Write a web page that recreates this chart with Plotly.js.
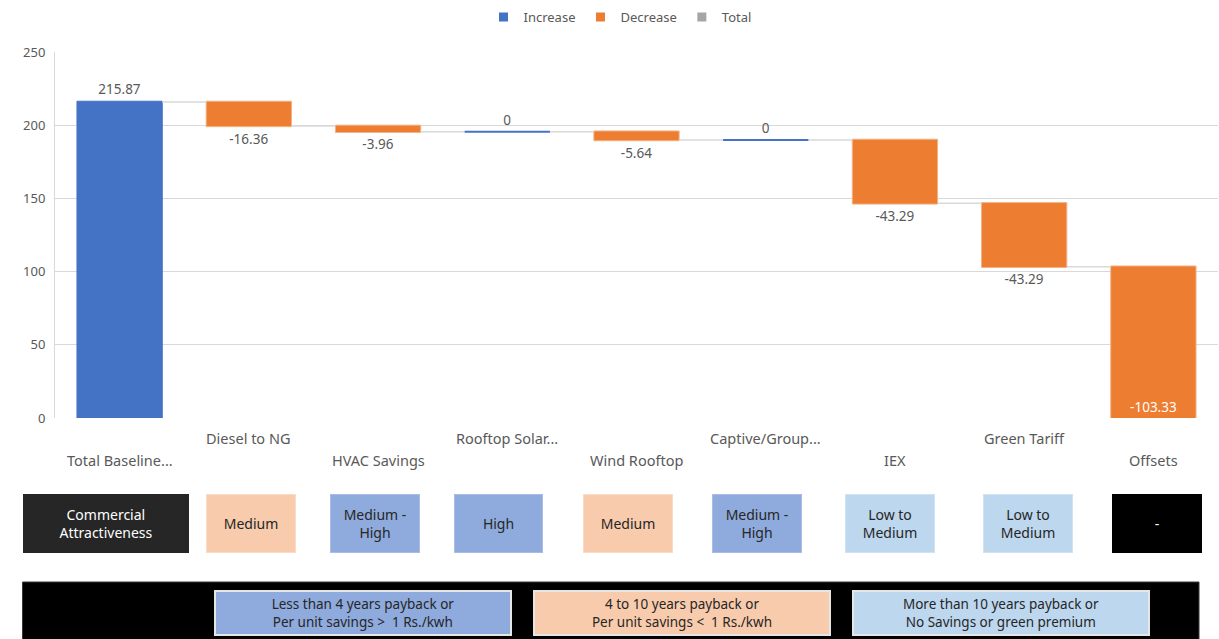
<!DOCTYPE html>
<html>
<head>
<meta charset="utf-8">
<script src="https://cdn.plot.ly/plotly-3.0.1.min.js"></script>
<style>
  html, body { margin: 0; padding: 0; background: #fff; }
  #chart { width: 1219px; height: 639px; }
</style>
</head>
<body>
<div id="chart"></div>
<script>
// Emission reduction pathway (waterfall) with commercial attractiveness ratings
const categories = [
  'Total Baseline...', 'Diesel to NG', 'HVAC Savings', 'Rooftop Solar...',
  'Wind Rooftop', 'Captive/Group...', 'IEX', 'Green Tariff', 'Offsets'
];
const changes = [215.87, -16.36, -3.96, 0, -5.64, 0, -43.29, -43.29, -103.33];
const ratings = [
  'Commercial<br>Attractiveness', 'Medium', 'Medium -<br>High', 'High',
  'Medium', 'Medium -<br>High', 'Low to<br>Medium', 'Low to<br>Medium', '-'
];
const ratingLevels = ['header', 'mid', 'high', 'high', 'mid', 'high', 'low', 'low', 'none'];
const keyTexts = [
  'Less than 4 years payback or<br>Per unit savings >  1 Rs./kwh',
  '4 to 10 years payback or<br>Per unit savings <  1 Rs./kwh',
  'More than 10 years payback or<br>No Savings or green premium'
];
const keyLevels = ['high', 'mid', 'low'];
const legendNames = ['Increase', 'Decrease', 'Total'];
const legendColors = ['#4472C4', '#ED7D31', '#A5A5A5'];

// styling
const FONT = 'Noto Sans, Open Sans, sans-serif';
const TXT = '#595959';
const INC = '#4472C4';
const DEC = '#ED7D31';
const GAP = 0.34;              // gap between bars as a fraction of the slot
const levelStyle = {
  header: { bg: '#262626', border: '#262626', color: '#FFFFFF' },
  none:   { bg: '#000000', border: '#000000', color: '#FFFFFF' },
  high:   { bg: '#8FAADC', border: '#A9BDE4', color: '#262626' },
  mid:    { bg: '#F8CBAD', border: '#FADBC6', color: '#262626' },
  low:    { bg: '#BDD7EE', border: '#D0E3F3', color: '#262626' }
};

// plot-area geometry (px) and helpers to convert page pixels to paper units
const PLOT = { l: 55, t: 52, w: 1163, h: 366 };
const fx = p => (p - PLOT.l) / PLOT.w;
const fy = p => (PLOT.t + PLOT.h - p) / PLOT.h;

const textPos = changes.map((v, i) => i === changes.length - 1 ? 'inside' : 'outside');

const traces = [{
  type: 'waterfall',
  x: categories,
  y: changes,
  measure: changes.map(() => 'relative'),
  text: changes.map(v => String(v)),
  textposition: textPos,
  insidetextanchor: 'end',
  textfont: { family: FONT, size: 13.5, color: TXT },
  outsidetextfont: { family: FONT, size: 13.5, color: TXT },
  insidetextfont: { family: FONT, size: 13.5, color: '#FFFFFF' },
  constraintext: 'none',
  cliponaxis: false,
  increasing: { marker: { color: INC, line: { color: INC, width: 1 } } },
  decreasing: { marker: { color: DEC, line: { color: '#F4B183', width: 1 } } },
  connector: { mode: 'between', line: { color: '#D9D9D9', width: 1.5 } },
  showlegend: false,
  hoverinfo: 'none'
}];

// zero-change steps are shown as a flat stroke at the running level
const zx = [], zy = [];
let running = 0;
changes.forEach((v, i) => {
  running += v;
  if (v === 0) {
    const half = (1 - GAP) / 2;
    zx.push(i - half, i + half, null);
    zy.push(running, running, null);
  }
});
traces.push({
  type: 'scatter', mode: 'lines', x: zx, y: zy, xaxis: 'x2', yaxis: 'y',
  line: { color: INC, width: 2 }, showlegend: false, hoverinfo: 'none'
});

legendNames.forEach((n, i) => {
  traces.push({
    type: 'scatter', mode: 'markers', x: [null], y: [null], name: n,
    marker: { symbol: 'square', size: 9, color: legendColors[i] },
    hoverinfo: 'none'
  });
});

const annotations = [];

// staggered category labels
categories.forEach((c, i) => {
  annotations.push({
    x: c, xref: 'x', y: fy(i % 2 === 0 ? 460 : 438), yref: 'paper',
    xanchor: 'center', yanchor: 'middle', showarrow: false,
    text: c, font: { family: FONT, size: 14.5, color: TXT }
  });
});

// attractiveness rating boxes under each category
const boxShift = [-14, 2, -3, -8.5, -9, -8.5, -4.5, 4, 4];
const boxW = [166, 90, 90, 89, 90, 90, 90, 90, 90];
ratings.forEach((r, i) => {
  const s = levelStyle[ratingLevels[i]];
  annotations.push({
    x: categories[i], xref: 'x', xshift: boxShift[i],
    y: fy(523.5), yref: 'paper', xanchor: 'center', yanchor: 'middle',
    showarrow: false, text: r, align: 'center',
    width: boxW[i] - 2, height: 57, borderpad: 0, borderwidth: 1,
    bgcolor: s.bg, bordercolor: s.border,
    font: { family: FONT, size: 14, color: s.color }
  });
});

// payback key along the bottom
const keyCenters = [363, 682, 1001];
keyTexts.forEach((t, i) => {
  const s = levelStyle[keyLevels[i]];
  annotations.push({
    x: fx(keyCenters[i]), xref: 'paper', y: fy(612.5), yref: 'paper',
    xanchor: 'center', yanchor: 'middle', showarrow: false,
    text: t, align: 'center', width: 294, height: 42, borderpad: 0,
    borderwidth: 2, bgcolor: s.bg, bordercolor: '#E6E6E6',
    font: { family: FONT, size: 13.5, color: '#262626' }
  });
});

const layout = {
  width: 1219, height: 639,
  margin: { l: PLOT.l, r: 1219 - PLOT.l - PLOT.w, t: PLOT.t, b: 639 - PLOT.t - PLOT.h },
  paper_bgcolor: '#FFFFFF', plot_bgcolor: '#FFFFFF',
  font: { family: FONT, color: TXT },
  waterfallgap: GAP,
  showlegend: true,
  legend: {
    orientation: 'h', x: fx(620), xanchor: 'center', y: fy(2), yanchor: 'top',
    font: { family: FONT, size: 13, color: TXT }, itemwidth: 30,
    bgcolor: 'rgba(0,0,0,0)'
  },
  xaxis: {
    type: 'category', range: [-0.5, 8.5], showticklabels: false,
    showgrid: false, zeroline: false, showline: false, fixedrange: true
  },
  xaxis2: {
    overlaying: 'x', range: [-0.5, 8.5], visible: false, fixedrange: true
  },
  yaxis: {
    range: [0, 250], dtick: 50, gridcolor: '#D9D9D9', gridwidth: 1,
    zeroline: false, showline: true, linecolor: '#D9D9D9', linewidth: 1,
    ticks: '', ticklabelstandoff: 6,
    tickfont: { family: FONT, size: 13, color: TXT }, fixedrange: true
  },
  shapes: [{
    type: 'rect', xref: 'paper', yref: 'paper', layer: 'above',
    x0: fx(22.5), x1: fx(1199), y0: fy(582), y1: fy(645),
    fillcolor: '#000000', line: { color: '#3A3A3A', width: 1 }
  }],
  annotations: annotations
};

Plotly.newPlot('chart', traces, layout, { displayModeBar: false, staticPlot: true });
</script>
</body>
</html>
